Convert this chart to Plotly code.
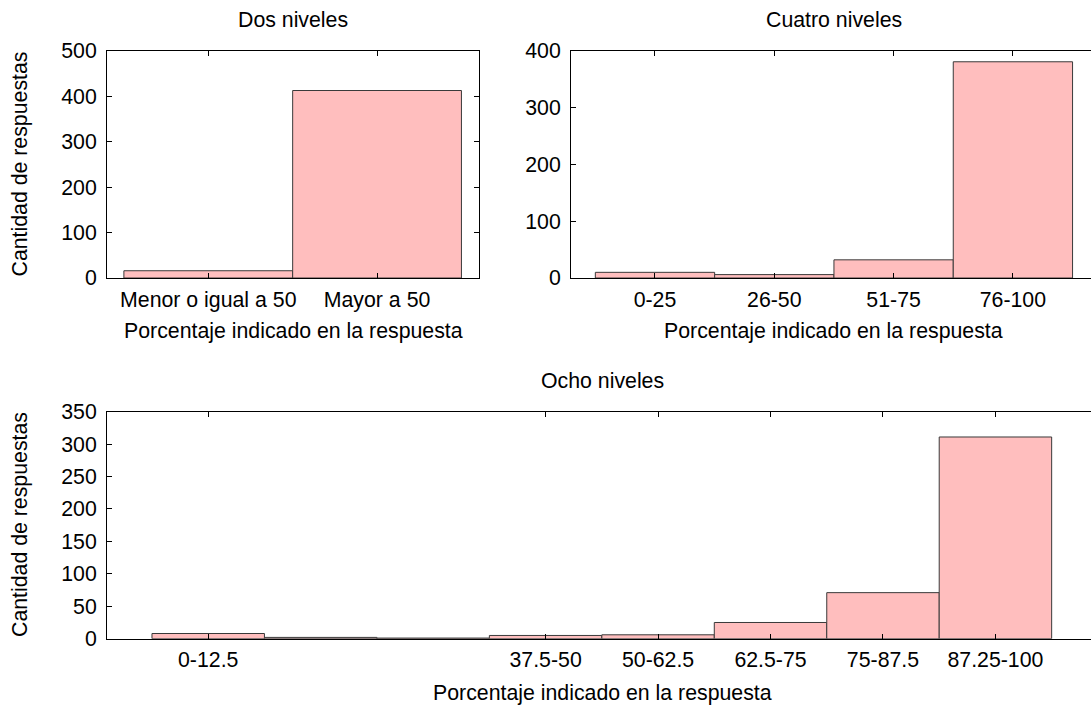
import plotly.graph_objects as go

# ---- data ----
dos_labels = ["Menor o igual a 50", "Mayor a 50"]
dos_values = [16, 413]

cuatro_labels = ["0-25", "26-50", "51-75", "76-100"]
cuatro_values = [10, 6, 32, 381]

ocho_labels = ["0-12.5", "", "", "37.5-50", "50-62.5", "62.5-75", "75-87.5", "87.25-100"]
ocho_values = [8, 2, 1, 5, 6, 25, 71, 311]

titles = ["Dos niveles", "Cuatro niveles", "Ocho niveles"]
xlabel = "Porcentaje indicado en la respuesta"
ylabel = "Cantidad de respuestas"

W, H = 1091, 709
FONT = "Liberation Sans, Arial, Helvetica, sans-serif"
FS = 21.3
FILL = "#ffbebe"
EDGE = "#3a3a3a"

def px(x):
    return x / W

def py(y):
    return 1 - y / H

fig = go.Figure()

def add_bars(labels, values, xa, ya):
    fig.add_trace(go.Bar(
        x=list(range(len(labels))), y=values, width=1,
        marker=dict(color=FILL, line=dict(color=EDGE, width=1)),
        xaxis=xa, yaxis=ya, showlegend=False, hoverinfo="y"))

add_bars(dos_labels, dos_values, "x", "y")
add_bars(cuatro_labels, cuatro_values, "x2", "y2")
add_bars(ocho_labels, ocho_values, "x3", "y3")

axis_common = dict(showgrid=False, zeroline=False, showline=True, linecolor="black",
                   linewidth=1, ticks="inside", ticklen=5, tickcolor="black", automargin=False,
                   tickfont=dict(family=FONT, size=FS, color="black"))
xcommon = dict(axis_common, ticklabelstandoff=2)
ycommon = dict(axis_common, ticklabelstandoff=5)

def tv(labels):
    return [i for i, l in enumerate(labels) if l]

def tt(labels):
    return [l for l in labels if l]

top_y = [py(278), py(51)]
bot_y = [py(638.7), py(411.7)]

# right end of clipped panels (frame continues past the picture edge)
r2 = (W - 655) / 119.3
r3 = (W - 208.3) / 112.45

fig.update_layout(
    template="none",
    width=W, height=H, autosize=False,
    margin=dict(l=0, r=0, t=0, b=0, pad=0),
    paper_bgcolor="white", plot_bgcolor="white",
    bargap=0,
    xaxis=dict(domain=[px(107), px(479)], range=[-0.6, 1.604], anchor="y",
               tickvals=tv(dos_labels), ticktext=tt(dos_labels), mirror="ticks", **xcommon),
    yaxis=dict(domain=top_y, range=[0, 500], anchor="x", tickvals=[0, 100, 200, 300, 400, 500],
               mirror="ticks", **ycommon),
    xaxis2=dict(domain=[px(571), 1.0], range=[-0.704, r2], anchor="y2",
                tickvals=tv(cuatro_labels), ticktext=tt(cuatro_labels), mirror="ticks", **xcommon),
    yaxis2=dict(domain=top_y, range=[0, 400], anchor="x2", tickvals=[0, 100, 200, 300, 400],
                **ycommon),
    xaxis3=dict(domain=[px(107), 1.0], range=[-0.9, r3], anchor="y3",
                tickvals=tv(ocho_labels), ticktext=tt(ocho_labels), mirror="ticks", **xcommon),
    yaxis3=dict(domain=bot_y, range=[0, 350], anchor="x3",
                tickvals=[0, 50, 100, 150, 200, 250, 300, 350], **ycommon),
)

ann_font = dict(family=FONT, size=FS, color="black")
anns = [
    (293, 20, titles[0], 0),
    (833.5, 20, titles[1], 0),
    (602, 381, titles[2], 0),
    (293, 331, xlabel, 0),
    (833.5, 331, xlabel, 0),
    (602, 693, xlabel, 0),
    (20, 164.5, ylabel, -90),
    (20, 525, ylabel, -90),
]
for x, y, t, ang in anns:
    fig.add_annotation(x=px(x), y=py(y), xref="paper", yref="paper", text=t, showarrow=False,
                       xanchor="center", yanchor="middle", textangle=ang, font=ann_font)

post = ("document.documentElement.style.margin='0';document.documentElement.style.overflow='hidden';"
        "document.body.style.margin='0';document.body.style.padding='0';document.body.style.overflow='hidden';")
fig.write_html("out.html", post_script=post, config={"displayModeBar": False, "staticPlot": True})
